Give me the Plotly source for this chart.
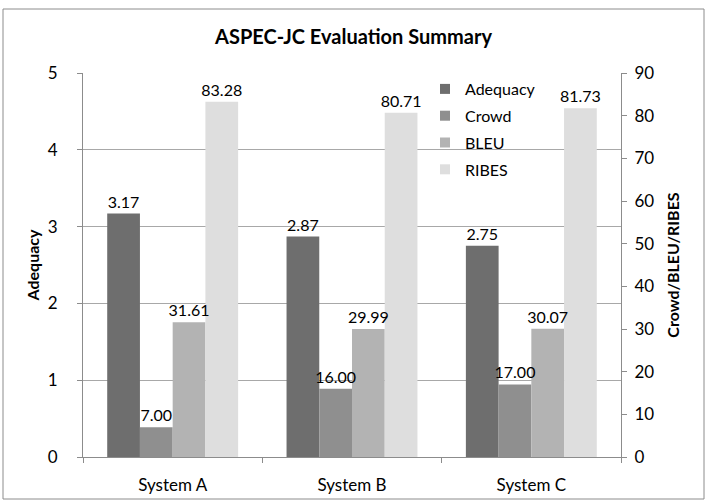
import plotly.graph_objects as go

systems = ["System A", "System B", "System C"]
adequacy = [3.17, 2.87, 2.75]
crowd = [7.00, 16.00, 17.00]
bleu = [31.61, 29.99, 30.07]
ribes = [83.28, 80.71, 81.73]

FONT = "Lato, 'Open Sans', sans-serif"
W, H = 707, 501
ML, MR, MT, MB = 83, 86, 73, 44
PW, PH = W - ML - MR, H - MT - MB
AXIS_GREY = "#8c8c8c"

series = [
    ("Adequacy", adequacy, "#6e6e6e", "y"),
    ("Crowd", crowd, "#8f8f8f", "y2"),
    ("BLEU", bleu, "#b3b3b3", "y2"),
    ("RIBES", ribes, "#dedede", "y2"),
]

fig = go.Figure()
# filled bars
for i, (name, vals, color, axis) in enumerate(series):
    fig.add_trace(go.Bar(
        x=systems, y=vals, name=name, yaxis=axis, showlegend=False,
        offsetgroup=str(i), marker=dict(color=color, line=dict(width=0)),
        hoverinfo="skip",
    ))

# value labels, drawn after all bars so neighbouring bars never cover them
for i, (name, vals, color, axis) in enumerate(series):
    fig.add_trace(go.Bar(
        x=systems, y=vals, name=name, yaxis=axis, showlegend=False,
        offsetgroup=str(i), marker=dict(color="rgba(0,0,0,0)", line=dict(width=0)),
        text=vals, texttemplate="%{y:.2f}", textposition="outside",
        constraintext="none",
        textfont=dict(family=FONT, size=16, color="#000"),
        cliponaxis=False,
    ))

# small square swatches for the legend
for name, vals, color, axis in series:
    fig.add_trace(go.Scatter(
        x=[None], y=[None], mode="markers", name=name, legendgroup=name,
        marker=dict(symbol="square", size=10, color=color),
        yaxis=axis, showlegend=True,
    ))

# outer chart frame
fig.add_shape(type="rect", xref="paper", yref="paper",
              x0=(3 - ML) / PW, x1=(704 - ML) / PW,
              y0=(H - MB - 499) / PH, y1=(H - MB - 9) / PH,
              line=dict(color=AXIS_GREY, width=1), layer="below")

fig.update_layout(
    width=W, height=H,
    margin=dict(l=ML, r=MR, t=MT, b=MB, autoexpand=False),
    paper_bgcolor="white", plot_bgcolor="white",
    barmode="group", bargap=0.27, bargroupgap=0,
    title=dict(text="<b>ASPEC-JC Evaluation Summary</b>", x=0.5, xanchor="center",
               y=1 - 37 / H, yanchor="middle",
               font=dict(family=FONT, size=20, color="#000")),
    font=dict(family=FONT, size=17, color="#000"),
    legend=dict(x=(425 - ML) / PW, y=1 - (72 - MT) / PH, xanchor="left", yanchor="top",
                bgcolor="rgba(0,0,0,0)", font=dict(family=FONT, size=16),
                itemwidth=30, tracegroupgap=3, traceorder="grouped"),
    xaxis=dict(showline=True, linecolor=AXIS_GREY, ticks="outside", tickson="boundaries",
               ticklen=5, tickcolor=AXIS_GREY, tickfont=dict(size=17), showgrid=False,
               ticklabelstandoff=13, automargin=False),
    yaxis=dict(range=[0, 5], dtick=1, showgrid=True, gridcolor="#a8a8a8",
               showline=True, linecolor=AXIS_GREY, ticks="outside", ticklen=5,
               tickcolor=AXIS_GREY, zeroline=False, tickfont=dict(size=17),
               ticklabelstandoff=16, automargin=False,
               title=dict(text="<b>Adequacy</b>", font=dict(size=16), standoff=4)),
    yaxis2=dict(range=[0, 90], dtick=10, overlaying="y", side="right", showgrid=False,
                showline=True, linecolor=AXIS_GREY, ticks="outside", ticklen=5,
                tickcolor=AXIS_GREY, zeroline=False, tickfont=dict(size=17),
                ticklabelstandoff=4, automargin=False,
                title=dict(text="<b>Crowd/BLEU/RIBES</b>", font=dict(size=16), standoff=14)),
)

fig.write_html("out.html")
